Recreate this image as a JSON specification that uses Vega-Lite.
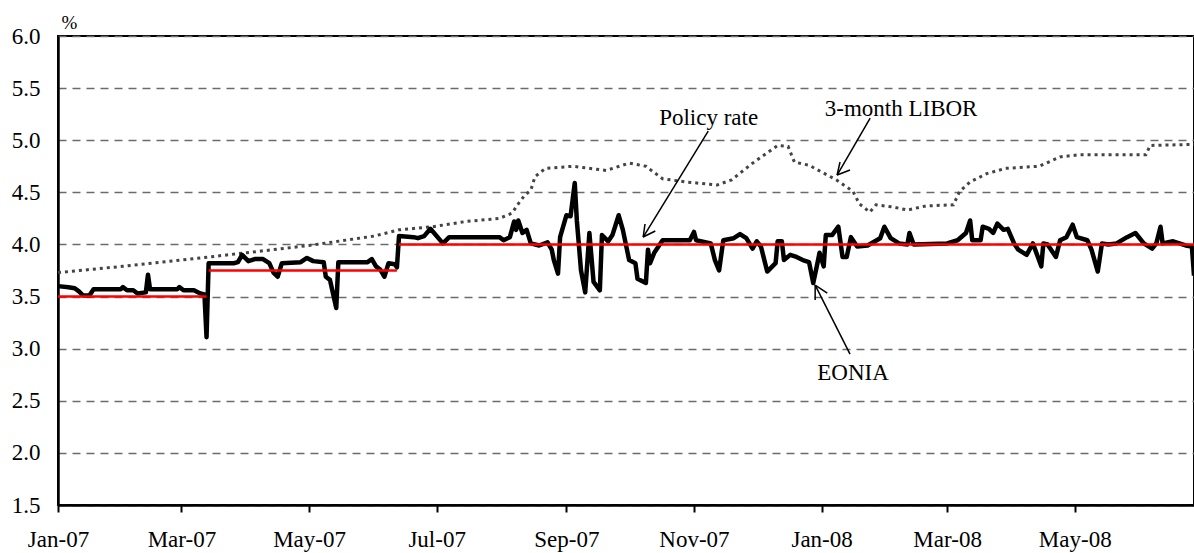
{
  "$schema": "https://vega.github.io/schema/vega-lite/v6.json",
  "width": 1136,
  "height": 469,
  "autosize": {"type": "none"},
  "padding": {"left": 58, "top": 36, "right": 0, "bottom": 48},
  "background": "white",
  "config": {
    "font": "Times New Roman, Liberation Serif, serif",
    "view": {"stroke": "black", "strokeWidth": 2},
    "axis": {"labelFont": "Times New Roman, Liberation Serif, serif", "titleFont": "Times New Roman, Liberation Serif, serif"},
    "axisX": {
      "domainColor": "black", "domainWidth": 2.5, "tickColor": "black", "tickWidth": 2, "tickSize": 7,
      "labelFontSize": 23, "labelColor": "black", "labelPadding": 16, "labelFlush": false, "labelOverlap": false,
      "grid": false, "format": "%b-%y", "tickCount": {"interval": "month", "step": 2}
    },
    "axisY": {
      "domainColor": "black", "domainWidth": 2.5, "ticks": false, "labelFontSize": 23, "labelColor": "black",
      "labelPadding": 18, "grid": true, "gridColor": "#6b6b6b", "gridDash": [8, 6], "gridWidth": 1.3,
      "values": [1.5, 2, 2.5, 3, 3.5, 4, 4.5, 5, 5.5, 6], "format": ".1f",
      "titleAngle": 0, "titleX": 11, "titleY": -8, "titleAlign": "center", "titleBaseline": "alphabetic",
      "titleFontSize": 19, "titleFontWeight": "normal", "titleColor": "black"
    }
  },
  "datasets": {
    "eonia": [
      {"date":"2007-01-01","value":3.60},{"date":"2007-01-06","value":3.59},{"date":"2007-01-09","value":3.58},
      {"date":"2007-01-11","value":3.55},{"date":"2007-01-13","value":3.51},{"date":"2007-01-16","value":3.51},
      {"date":"2007-01-18","value":3.57},{"date":"2007-01-31","value":3.57},{"date":"2007-02-01","value":3.59},
      {"date":"2007-02-03","value":3.56},{"date":"2007-02-06","value":3.56},{"date":"2007-02-08","value":3.53},
      {"date":"2007-02-12","value":3.54},{"date":"2007-02-13","value":3.71},{"date":"2007-02-14","value":3.57},
      {"date":"2007-02-27","value":3.57},{"date":"2007-02-28","value":3.59},{"date":"2007-03-02","value":3.56},
      {"date":"2007-03-07","value":3.56},{"date":"2007-03-10","value":3.53},{"date":"2007-03-12","value":3.52},
      {"date":"2007-03-13","value":3.11},{"date":"2007-03-14","value":3.82},{"date":"2007-03-26","value":3.82},
      {"date":"2007-03-28","value":3.83},{"date":"2007-03-30","value":3.90},{"date":"2007-04-02","value":3.84},
      {"date":"2007-04-05","value":3.86},{"date":"2007-04-09","value":3.86},{"date":"2007-04-12","value":3.82},
      {"date":"2007-04-14","value":3.73},{"date":"2007-04-16","value":3.69},{"date":"2007-04-18","value":3.82},
      {"date":"2007-04-27","value":3.83},{"date":"2007-04-30","value":3.87},{"date":"2007-05-03","value":3.84},
      {"date":"2007-05-08","value":3.83},{"date":"2007-05-09","value":3.69},{"date":"2007-05-11","value":3.66},
      {"date":"2007-05-14","value":3.39},{"date":"2007-05-15","value":3.83},{"date":"2007-05-29","value":3.83},
      {"date":"2007-05-31","value":3.86},{"date":"2007-06-02","value":3.79},{"date":"2007-06-04","value":3.76},
      {"date":"2007-06-06","value":3.69},{"date":"2007-06-08","value":3.82},{"date":"2007-06-11","value":3.81},
      {"date":"2007-06-12","value":3.78},{"date":"2007-06-13","value":4.08},{"date":"2007-06-20","value":4.07},
      {"date":"2007-06-22","value":4.06},{"date":"2007-06-25","value":4.08},{"date":"2007-06-28","value":4.15},
      {"date":"2007-07-04","value":4.01},{"date":"2007-07-07","value":4.07},{"date":"2007-07-26","value":4.07},
      {"date":"2007-07-31","value":4.07},{"date":"2007-08-02","value":4.04},{"date":"2007-08-05","value":4.07},
      {"date":"2007-08-07","value":4.22},{"date":"2007-08-08","value":4.14},{"date":"2007-08-09","value":4.23},
      {"date":"2007-08-11","value":4.11},{"date":"2007-08-13","value":4.14},{"date":"2007-08-15","value":4.01},
      {"date":"2007-08-19","value":3.99},{"date":"2007-08-23","value":4.02},{"date":"2007-08-25","value":3.95},
      {"date":"2007-08-26","value":3.85},{"date":"2007-08-28","value":3.72},{"date":"2007-08-29","value":4.07},
      {"date":"2007-09-01","value":4.28},{"date":"2007-09-03","value":4.27},{"date":"2007-09-05","value":4.59},
      {"date":"2007-09-06","value":4.23},{"date":"2007-09-08","value":3.75},{"date":"2007-09-10","value":3.54},
      {"date":"2007-09-12","value":4.11},{"date":"2007-09-14","value":3.64},{"date":"2007-09-17","value":3.56},
      {"date":"2007-09-18","value":4.09},{"date":"2007-09-21","value":4.03},{"date":"2007-09-23","value":4.09},
      {"date":"2007-09-26","value":4.28},{"date":"2007-09-28","value":4.14},{"date":"2007-10-01","value":3.85},
      {"date":"2007-10-04","value":3.82},{"date":"2007-10-05","value":3.67},{"date":"2007-10-09","value":3.63},
      {"date":"2007-10-10","value":3.95},{"date":"2007-10-11","value":3.82},{"date":"2007-10-13","value":3.92},
      {"date":"2007-10-17","value":4.04},{"date":"2007-10-30","value":4.04},{"date":"2007-11-01","value":4.12},
      {"date":"2007-11-02","value":4.04},{"date":"2007-11-09","value":4.01},{"date":"2007-11-11","value":3.85},
      {"date":"2007-11-13","value":3.75},{"date":"2007-11-15","value":4.04},{"date":"2007-11-20","value":4.06},
      {"date":"2007-11-23","value":4.10},{"date":"2007-11-26","value":4.06},{"date":"2007-11-29","value":3.96},
      {"date":"2007-12-01","value":4.03},{"date":"2007-12-03","value":3.98},{"date":"2007-12-06","value":3.74},
      {"date":"2007-12-10","value":3.82},{"date":"2007-12-11","value":4.03},{"date":"2007-12-13","value":4.03},
      {"date":"2007-12-14","value":3.85},{"date":"2007-12-17","value":3.90},{"date":"2007-12-20","value":3.88},
      {"date":"2007-12-23","value":3.85},{"date":"2007-12-26","value":3.83},{"date":"2007-12-28","value":3.63},
      {"date":"2007-12-30","value":3.82},{"date":"2007-12-31","value":3.92},{"date":"2008-01-02","value":3.79},
      {"date":"2008-01-03","value":4.09},{"date":"2008-01-06","value":4.09},{"date":"2008-01-09","value":4.17},
      {"date":"2008-01-11","value":3.88},{"date":"2008-01-13","value":3.88},{"date":"2008-01-15","value":4.07},
      {"date":"2008-01-18","value":3.98},{"date":"2008-01-23","value":3.99},{"date":"2008-01-29","value":4.06},
      {"date":"2008-01-31","value":4.17},{"date":"2008-02-03","value":4.06},{"date":"2008-02-07","value":4.01},
      {"date":"2008-02-11","value":4.00},{"date":"2008-02-12","value":4.11},{"date":"2008-02-14","value":4.00},
      {"date":"2008-03-01","value":4.01},{"date":"2008-03-06","value":4.04},{"date":"2008-03-10","value":4.11},
      {"date":"2008-03-12","value":4.23},{"date":"2008-03-13","value":4.04},{"date":"2008-03-17","value":4.04},
      {"date":"2008-03-18","value":4.17},{"date":"2008-03-21","value":4.15},{"date":"2008-03-23","value":4.11},
      {"date":"2008-03-25","value":4.20},{"date":"2008-03-28","value":4.14},{"date":"2008-03-30","value":4.15},
      {"date":"2008-04-02","value":4.01},{"date":"2008-04-04","value":3.95},{"date":"2008-04-08","value":3.90},
      {"date":"2008-04-11","value":4.01},{"date":"2008-04-15","value":3.79},{"date":"2008-04-16","value":4.01},
      {"date":"2008-04-18","value":4.00},{"date":"2008-04-22","value":3.88},{"date":"2008-04-24","value":4.04},
      {"date":"2008-04-27","value":4.07},{"date":"2008-04-30","value":4.19},{"date":"2008-05-02","value":4.07},
      {"date":"2008-05-07","value":4.04},{"date":"2008-05-09","value":3.95},{"date":"2008-05-12","value":3.74},
      {"date":"2008-05-14","value":4.01},{"date":"2008-05-17","value":4.00},{"date":"2008-05-21","value":4.01},
      {"date":"2008-05-26","value":4.07},{"date":"2008-05-30","value":4.11},{"date":"2008-06-03","value":4.01},
      {"date":"2008-06-07","value":3.96},{"date":"2008-06-09","value":4.01},{"date":"2008-06-11","value":4.17},
      {"date":"2008-06-12","value":4.01},{"date":"2008-06-17","value":4.03},{"date":"2008-06-23","value":3.99},
      {"date":"2008-06-26","value":3.98},{"date":"2008-06-27","value":3.70}
    ],
    "libor": [
      {"date":"2007-01-01","value":3.73},{"date":"2007-02-01","value":3.79},{"date":"2007-03-01","value":3.85},
      {"date":"2007-04-01","value":3.92},{"date":"2007-05-01","value":3.99},{"date":"2007-06-01","value":4.08},
      {"date":"2007-06-13","value":4.14},{"date":"2007-06-29","value":4.17},{"date":"2007-07-15","value":4.22},
      {"date":"2007-07-31","value":4.25},{"date":"2007-08-06","value":4.30},{"date":"2007-08-09","value":4.39},
      {"date":"2007-08-12","value":4.47},{"date":"2007-08-15","value":4.52},{"date":"2007-08-17","value":4.65},
      {"date":"2007-08-22","value":4.73},{"date":"2007-09-04","value":4.75},{"date":"2007-09-20","value":4.71},
      {"date":"2007-10-01","value":4.78},{"date":"2007-10-09","value":4.75},{"date":"2007-10-17","value":4.63},
      {"date":"2007-10-28","value":4.60},{"date":"2007-11-12","value":4.57},{"date":"2007-11-19","value":4.62},
      {"date":"2007-11-29","value":4.78},{"date":"2007-12-11","value":4.95},{"date":"2007-12-16","value":4.94},
      {"date":"2007-12-19","value":4.79},{"date":"2007-12-26","value":4.76},{"date":"2008-01-08","value":4.62},
      {"date":"2008-01-16","value":4.51},{"date":"2008-01-19","value":4.39},{"date":"2008-01-24","value":4.31},
      {"date":"2008-01-27","value":4.38},{"date":"2008-02-04","value":4.36},{"date":"2008-02-11","value":4.33},
      {"date":"2008-02-20","value":4.37},{"date":"2008-03-04","value":4.38},{"date":"2008-03-07","value":4.51},
      {"date":"2008-03-12","value":4.60},{"date":"2008-03-20","value":4.68},{"date":"2008-03-29","value":4.73},
      {"date":"2008-04-14","value":4.75},{"date":"2008-04-24","value":4.84},{"date":"2008-05-03","value":4.86},
      {"date":"2008-06-04","value":4.86},{"date":"2008-06-06","value":4.95},{"date":"2008-06-27","value":4.96}
    ],
    "policy": [
      {"date":"2007-01-01","value":3.5,"seg":"a"},{"date":"2007-03-13","value":3.5,"seg":"a"},
      {"date":"2007-03-14","value":3.75,"seg":"b"},{"date":"2007-06-12","value":3.75,"seg":"b"},
      {"date":"2007-06-13","value":4.0,"seg":"c"},{"date":"2008-06-27","value":4.0,"seg":"c"}
    ],
    "arrows": [
      {"date":"2007-10-07T17:00Z","value":4.071,"date2":"2007-11-07T19:00Z","value2":5.088},
      {"date":"2007-10-07T17:00Z","value":4.071,"date2":"2007-10-13T12:00Z","value2":4.129},
      {"date":"2007-10-07T17:00Z","value":4.071,"date2":"2007-10-08T14:00Z","value2":4.196},
      {"date":"2008-01-08T10:00Z","value":4.666,"date2":"2008-01-24T05:00Z","value2":5.213},
      {"date":"2008-01-08T10:00Z","value":4.666,"date2":"2008-01-14T14:00Z","value2":4.714},
      {"date":"2008-01-08T10:00Z","value":4.666,"date2":"2008-01-09T19:00Z","value2":4.791},
      {"date":"2007-12-28T22:00Z","value":3.610,"date2":"2008-01-14T14:00Z","value2":2.948},
      {"date":"2007-12-28T22:00Z","value":3.610,"date2":"2008-01-03T17:00Z","value2":3.534},
      {"date":"2007-12-28T22:00Z","value":3.610,"date2":"2007-12-28T22:00Z","value2":3.466}
    ],
    "labels": [
      {"date":"2007-11-08","value":5.146,"label":"Policy rate"},
      {"date":"2008-02-08","value":5.232,"label":"3-month LIBOR"},
      {"date":"2008-01-16","value":2.699,"label":"EONIA"}
    ]
  },
  "layer": [
    {
      "data": {"name": "libor"},
      "mark": {"type": "line", "color": "#444444", "strokeWidth": 3, "strokeDash": [3, 4]},
      "encoding": {
        "x": {"field": "date", "type": "temporal", "title": null, "scale": {"type": "utc", "domain": [{"year": 2007, "month": 1, "date": 1, "utc": true}, {"year": 2008, "month": 6, "date": 27, "utc": true}]}},
        "y": {"field": "value", "type": "quantitative", "title": "%", "scale": {"domain": [1.5, 6], "zero": false, "nice": false}}
      }
    },
    {
      "data": {"name": "eonia"},
      "mark": {"type": "line", "color": "black", "strokeWidth": 4.5, "strokeJoin": "round"},
      "encoding": {
        "x": {"field": "date", "type": "temporal", "title": null, "scale": {"type": "utc", "domain": [{"year": 2007, "month": 1, "date": 1, "utc": true}, {"year": 2008, "month": 6, "date": 27, "utc": true}]}},
        "y": {"field": "value", "type": "quantitative", "title": "%", "scale": {"domain": [1.5, 6], "zero": false, "nice": false}}
      }
    },
    {
      "data": {"name": "policy"},
      "mark": {"type": "line", "color": "#ff0000", "strokeWidth": 2.5},
      "encoding": {
        "x": {"field": "date", "type": "temporal", "title": null, "scale": {"type": "utc", "domain": [{"year": 2007, "month": 1, "date": 1, "utc": true}, {"year": 2008, "month": 6, "date": 27, "utc": true}]}},
        "y": {"field": "value", "type": "quantitative", "title": "%", "scale": {"domain": [1.5, 6], "zero": false, "nice": false}},
        "detail": {"field": "seg", "type": "nominal"}
      }
    },
    {
      "data": {"name": "arrows"},
      "mark": {"type": "rule", "color": "black", "strokeWidth": 1.5},
      "encoding": {
        "x": {"field": "date", "type": "temporal", "title": null, "scale": {"type": "utc", "domain": [{"year": 2007, "month": 1, "date": 1, "utc": true}, {"year": 2008, "month": 6, "date": 27, "utc": true}]}},
        "y": {"field": "value", "type": "quantitative", "title": "%", "scale": {"domain": [1.5, 6], "zero": false, "nice": false}},
        "x2": {"field": "date2"},
        "y2": {"field": "value2"}
      }
    },
    {
      "data": {"name": "labels"},
      "mark": {"type": "text", "fontSize": 23, "color": "black", "align": "center", "baseline": "alphabetic"},
      "encoding": {
        "x": {"field": "date", "type": "temporal", "title": null, "scale": {"type": "utc", "domain": [{"year": 2007, "month": 1, "date": 1, "utc": true}, {"year": 2008, "month": 6, "date": 27, "utc": true}]}},
        "y": {"field": "value", "type": "quantitative", "title": "%", "scale": {"domain": [1.5, 6], "zero": false, "nice": false}},
        "text": {"field": "label"}
      }
    }
  ]
}
